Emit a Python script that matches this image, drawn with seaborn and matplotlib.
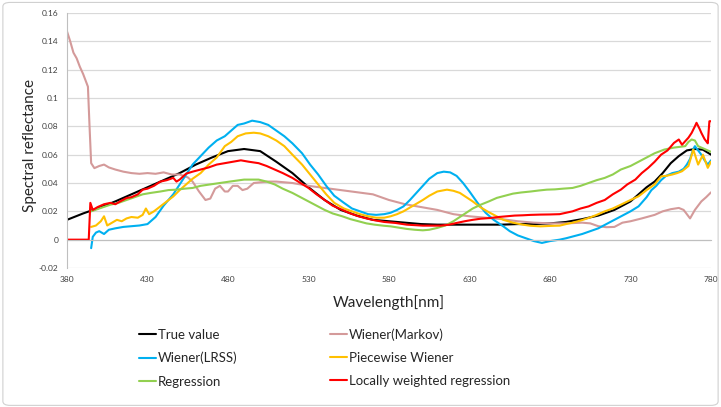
import numpy as np
import pandas as pd
import matplotlib
matplotlib.use("Agg")
import matplotlib.pyplot as plt
from matplotlib.patches import FancyBboxPatch
import seaborn as sns

# values (wavelength in nm, reflectance)
true_nm = [380, 390, 400, 410, 420, 430, 440, 450, 460, 470, 480, 490, 500, 510, 520, 530,
           540, 550, 560, 570, 580, 590, 600, 610, 620, 630, 640, 650, 660, 670, 680, 690,
           700, 710, 720, 730, 740, 745, 750, 755, 760, 765, 770, 775, 780]
true_val = [0.014, 0.0185, 0.0225, 0.027, 0.032, 0.037, 0.042, 0.047, 0.053, 0.058, 0.0625,
            0.064, 0.0625, 0.055, 0.047, 0.037, 0.028, 0.021, 0.017, 0.014, 0.013, 0.012,
            0.011, 0.0106, 0.0106, 0.0106, 0.0106, 0.0106, 0.011, 0.011, 0.0115, 0.0125,
            0.0145, 0.017, 0.021, 0.027, 0.037, 0.041, 0.047, 0.054, 0.059, 0.063, 0.064,
            0.0635, 0.060]

markov_nm = [380, 382, 384, 386, 388, 390, 393, 394, 395, 397, 400, 403, 406, 410, 415, 420,
             425, 430, 435, 440, 445, 450, 455, 458, 462, 466, 469, 472, 475, 478, 480, 483,
             486, 489, 492, 496, 500, 505, 510, 520, 530, 540, 550, 560, 570, 580, 590, 600,
             610, 620, 630, 640, 650, 660, 670, 680, 690, 700, 705, 710, 715, 720, 725, 730,
             737, 745, 750, 755, 760, 763, 767, 770, 774, 777, 780]
markov_val = [0.147, 0.140, 0.132, 0.128, 0.122, 0.117, 0.108, 0.080, 0.054, 0.0505, 0.052,
              0.053, 0.051, 0.0495, 0.048, 0.047, 0.0465, 0.047, 0.0465, 0.0475, 0.046, 0.046,
              0.044, 0.041, 0.034, 0.028, 0.029, 0.036, 0.038, 0.034, 0.034, 0.038, 0.038,
              0.035, 0.036, 0.040, 0.0405, 0.041, 0.041, 0.040, 0.038, 0.0365, 0.035, 0.0335,
              0.032, 0.028, 0.025, 0.023, 0.021, 0.018, 0.0165, 0.0155, 0.0145, 0.013, 0.012,
              0.0115, 0.0115, 0.012, 0.0115, 0.0095, 0.0088, 0.009, 0.012, 0.013, 0.015,
              0.0175, 0.020, 0.0215, 0.0224, 0.021, 0.015, 0.021, 0.027, 0.030, 0.0334]

lrss_nm = [395, 396, 398, 400, 403, 406, 410, 415, 420, 425, 430, 435, 440, 446, 450, 454,
           458, 463, 468, 473, 478, 482, 486, 490, 495, 500, 505, 510, 515, 520, 526, 531,
           536, 541, 546, 552, 557, 562, 567, 572, 577, 581, 585, 589, 593, 597, 601, 605,
           610, 614, 618, 622, 626, 630, 635, 640, 645, 651, 655, 660, 665, 670, 675, 680,
           686, 690, 695, 700, 705, 710, 715, 720, 725, 730, 735, 740, 743, 746, 749, 752,
           756, 760, 763, 765, 767, 769, 770, 772, 774, 776, 778, 780]
lrss_val = [-0.006, 0.002, 0.005, 0.006, 0.004, 0.007, 0.008, 0.009, 0.0095, 0.010, 0.011,
            0.016, 0.024, 0.032, 0.039, 0.046, 0.053, 0.059, 0.065, 0.070, 0.073, 0.077,
            0.081, 0.082, 0.084, 0.083, 0.081, 0.077, 0.073, 0.068, 0.061, 0.053, 0.046,
            0.038, 0.031, 0.026, 0.022, 0.020, 0.018, 0.0175, 0.018, 0.019, 0.021, 0.0235,
            0.028, 0.033, 0.038, 0.043, 0.047, 0.048, 0.0475, 0.045, 0.040, 0.034, 0.026,
            0.019, 0.014, 0.0094, 0.006, 0.003, 0.001, -0.001, -0.0023, -0.001, 0.0, 0.001,
            0.0025, 0.004, 0.006, 0.008, 0.011, 0.014, 0.017, 0.020, 0.0235, 0.030, 0.035,
            0.038, 0.042, 0.045, 0.047, 0.048, 0.050, 0.053, 0.057, 0.064, 0.066, 0.063,
            0.060, 0.056, 0.053, 0.056]

piece_nm = [395, 398, 401, 403, 405, 408, 411, 414, 417, 420, 424, 427, 429, 431, 434, 438,
            442, 446, 450, 454, 458, 463, 468, 473, 478, 482, 486, 491, 496, 500, 505, 510,
            515, 520, 526, 531, 536, 541, 546, 552, 557, 562, 567, 572, 577, 581, 585, 589,
            595, 601, 605, 610, 616, 620, 624, 628, 632, 636, 641, 646, 651, 657, 663, 668,
            674, 680, 686, 690, 694, 699, 704, 709, 714, 719, 724, 730, 735, 740, 745, 749,
            752, 756, 759, 762, 766, 769, 772, 775, 778, 780]
piece_val = [0.009, 0.010, 0.013, 0.0165, 0.010, 0.012, 0.014, 0.013, 0.015, 0.016, 0.0155,
             0.0175, 0.022, 0.018, 0.020, 0.0235, 0.027, 0.0305, 0.035, 0.039, 0.043, 0.047,
             0.053, 0.058, 0.066, 0.069, 0.073, 0.075, 0.0755, 0.075, 0.073, 0.070, 0.066,
             0.060, 0.053, 0.046, 0.039, 0.032, 0.026, 0.022, 0.020, 0.018, 0.0165, 0.0155,
             0.0155, 0.0165, 0.018, 0.020, 0.024, 0.028, 0.031, 0.034, 0.0353, 0.0345, 0.033,
             0.030, 0.027, 0.0235, 0.020, 0.017, 0.014, 0.012, 0.0106, 0.0098, 0.0094,
             0.0097, 0.0099, 0.011, 0.012, 0.0135, 0.0153, 0.0175, 0.020, 0.022, 0.0247,
             0.028, 0.0306, 0.035, 0.039, 0.0447, 0.045, 0.046, 0.047, 0.0483, 0.052, 0.0636,
             0.053, 0.060, 0.0507, 0.055]

regr_nm = [395, 400, 407, 412, 417, 422, 427, 432, 438, 443, 448, 453, 458, 463, 469, 475,
           481, 490, 499, 504, 509, 514, 520, 525, 530, 535, 540, 545, 551, 556, 561, 566,
           571, 577, 581, 586, 591, 596, 601, 605, 610, 615, 620, 624, 628, 632, 637, 642,
           647, 652, 657, 662, 668, 673, 678, 683, 688, 694, 699, 704, 709, 714, 719, 724,
           730, 735, 740, 745, 751, 757, 764, 766, 768, 770, 772, 776, 780]
regr_val = [0.020, 0.022, 0.0247, 0.026, 0.028, 0.030, 0.032, 0.033, 0.034, 0.035, 0.0353,
            0.036, 0.0365, 0.038, 0.039, 0.040, 0.041, 0.0424, 0.0424, 0.041, 0.039, 0.036,
            0.033, 0.030, 0.027, 0.024, 0.021, 0.0185, 0.0165, 0.0145, 0.013, 0.0115,
            0.0106, 0.0098, 0.0094, 0.0085, 0.0076, 0.0070, 0.0066, 0.007, 0.0083, 0.010,
            0.013, 0.016, 0.019, 0.022, 0.0247, 0.027, 0.0295, 0.031, 0.0325, 0.0333, 0.034,
            0.0347, 0.0353, 0.0355, 0.036, 0.0365, 0.038, 0.040, 0.042, 0.0436, 0.046,
            0.0495, 0.052, 0.055, 0.058, 0.061, 0.0636, 0.065, 0.066, 0.069, 0.0707, 0.070,
            0.066, 0.064, 0.062]

lwr_nm = [380, 393.5, 394.5, 396, 399, 403, 407, 410, 413, 417, 420, 424, 427, 430, 434, 438,
          442, 446, 448, 450, 454, 458, 463, 468, 473, 478, 483, 488, 493, 499, 504, 509,
          514, 520, 525, 530, 535, 540, 545, 551, 556, 561, 566, 571, 577, 584, 591, 601,
          612, 617, 622, 627, 632, 637, 643, 648, 653, 658, 663, 668, 674, 680, 686, 690,
          694, 699, 704, 709, 714, 719, 724, 728, 733, 737, 741, 745, 749, 753, 757, 760,
          762, 764, 766, 768, 770, 771, 773, 774, 776, 777, 778, 779, 780]
lwr_val = [0.0, 0.0, 0.026, 0.021, 0.023, 0.025, 0.026, 0.025, 0.027, 0.0294, 0.030, 0.032,
           0.0353, 0.036, 0.038, 0.041, 0.042, 0.0436, 0.041, 0.0424, 0.0466, 0.048, 0.0495,
           0.051, 0.053, 0.054, 0.055, 0.056, 0.055, 0.054, 0.052, 0.0495, 0.047, 0.0436,
           0.040, 0.0365, 0.032, 0.028, 0.024, 0.021, 0.0185, 0.0165, 0.015, 0.0137, 0.0125,
           0.0118, 0.0106, 0.0099, 0.0099, 0.0105, 0.0118, 0.013, 0.014, 0.0148, 0.0153,
           0.016, 0.0165, 0.017, 0.0172, 0.0175, 0.0177, 0.0178, 0.018, 0.019, 0.020, 0.022,
           0.0235, 0.026, 0.028, 0.032, 0.0353, 0.039, 0.0424, 0.047, 0.0507, 0.055, 0.060,
           0.063, 0.0683, 0.0707, 0.067, 0.0695, 0.072, 0.0754, 0.080, 0.0825, 0.078, 0.0754,
           0.071, 0.0695, 0.068, 0.0836, 0.0836]

methods = ["True value", "Wiener(Markov)", "Wiener(LRSS)", "Piecewise Wiener",
           "Regression", "Locally weighted regression"]
series = [(true_nm, true_val), (markov_nm, markov_val), (lrss_nm, lrss_val),
          (piece_nm, piece_val), (regr_nm, regr_val), (lwr_nm, lwr_val)]
colors = ["#000000", "#D49A9A", "#00B0F0", "#FFC000", "#92D050", "#FF0000"]

df = pd.concat([pd.DataFrame({"Wavelength": x, "Reflectance": y, "Method": m})
                for m, (x, y) in zip(methods, series)], ignore_index=True)

sns.set_style("white")
plt.rcParams["font.family"] = ["Lato", "DejaVu Sans"]

fig = plt.figure(figsize=(7.21, 4.07), dpi=100)
ax = fig.add_axes([67 / 721, 1 - 268 / 407, 644 / 721, 255 / 407])

sns.lineplot(data=df, x="Wavelength", y="Reflectance", hue="Method", hue_order=methods,
             palette=dict(zip(methods, colors)), estimator=None, sort=False,
             linewidth=1.5, ax=ax)

ax.set_xlim(380, 780)
ax.set_ylim(-0.02, 0.16)
ax.set_xticks(np.arange(380, 781, 50))
ax.set_yticks(np.arange(-0.02, 0.161, 0.02))
ax.set_yticklabels([f"{v:g}" if abs(v) > 1e-9 else "0" for v in np.arange(-0.02, 0.161, 0.02)])
ax.yaxis.grid(True, color="#d9d9d9", linewidth=0.9)
ax.set_axisbelow(True)

for s in ["top", "right"]:
    ax.spines[s].set_visible(False)
ax.spines["left"].set_color("#bfbfbf")
ax.spines["bottom"].set_color("#bfbfbf")
ax.spines["bottom"].set_position(("data", 0))
ax.tick_params(axis="x", direction="out", length=4, width=0.8, color="#bfbfbf",
               pad=22, labelsize=6, labelcolor="#404040")
ax.tick_params(axis="y", direction="out", length=4, width=0.8, color="#bfbfbf",
               pad=2, labelsize=6, labelcolor="#404040")

ax.set_xlabel("Wavelength[nm]", fontsize=11)
ax.set_ylabel("Spectral reflectance", fontsize=11)
ax.xaxis.set_label_coords(0.5, -0.105)
ax.yaxis.set_label_coords(-0.047, 0.48)

handles, labels = ax.get_legend_handles_labels()
ax.get_legend().remove()
order = [0, 2, 4, 1, 3, 5]
fig.legend([handles[i] for i in order], [labels[i] for i in order], ncol=2,
           loc="upper left", bbox_to_anchor=(139 / 721, 1 - 328 / 407), frameon=False,
           fontsize=9.5, handlelength=1.3, handletextpad=0.15, columnspacing=7.0,
           labelspacing=0.85, borderaxespad=0, borderpad=0)

fig.patches.append(FancyBboxPatch((0.004, 0.004), 0.992, 0.99, boxstyle="round,pad=0,rounding_size=0.01",
                                  transform=fig.transFigure, fill=False,
                                  edgecolor="#d0d0d0", linewidth=0.8))

fig.savefig("out.png", dpi=100)
